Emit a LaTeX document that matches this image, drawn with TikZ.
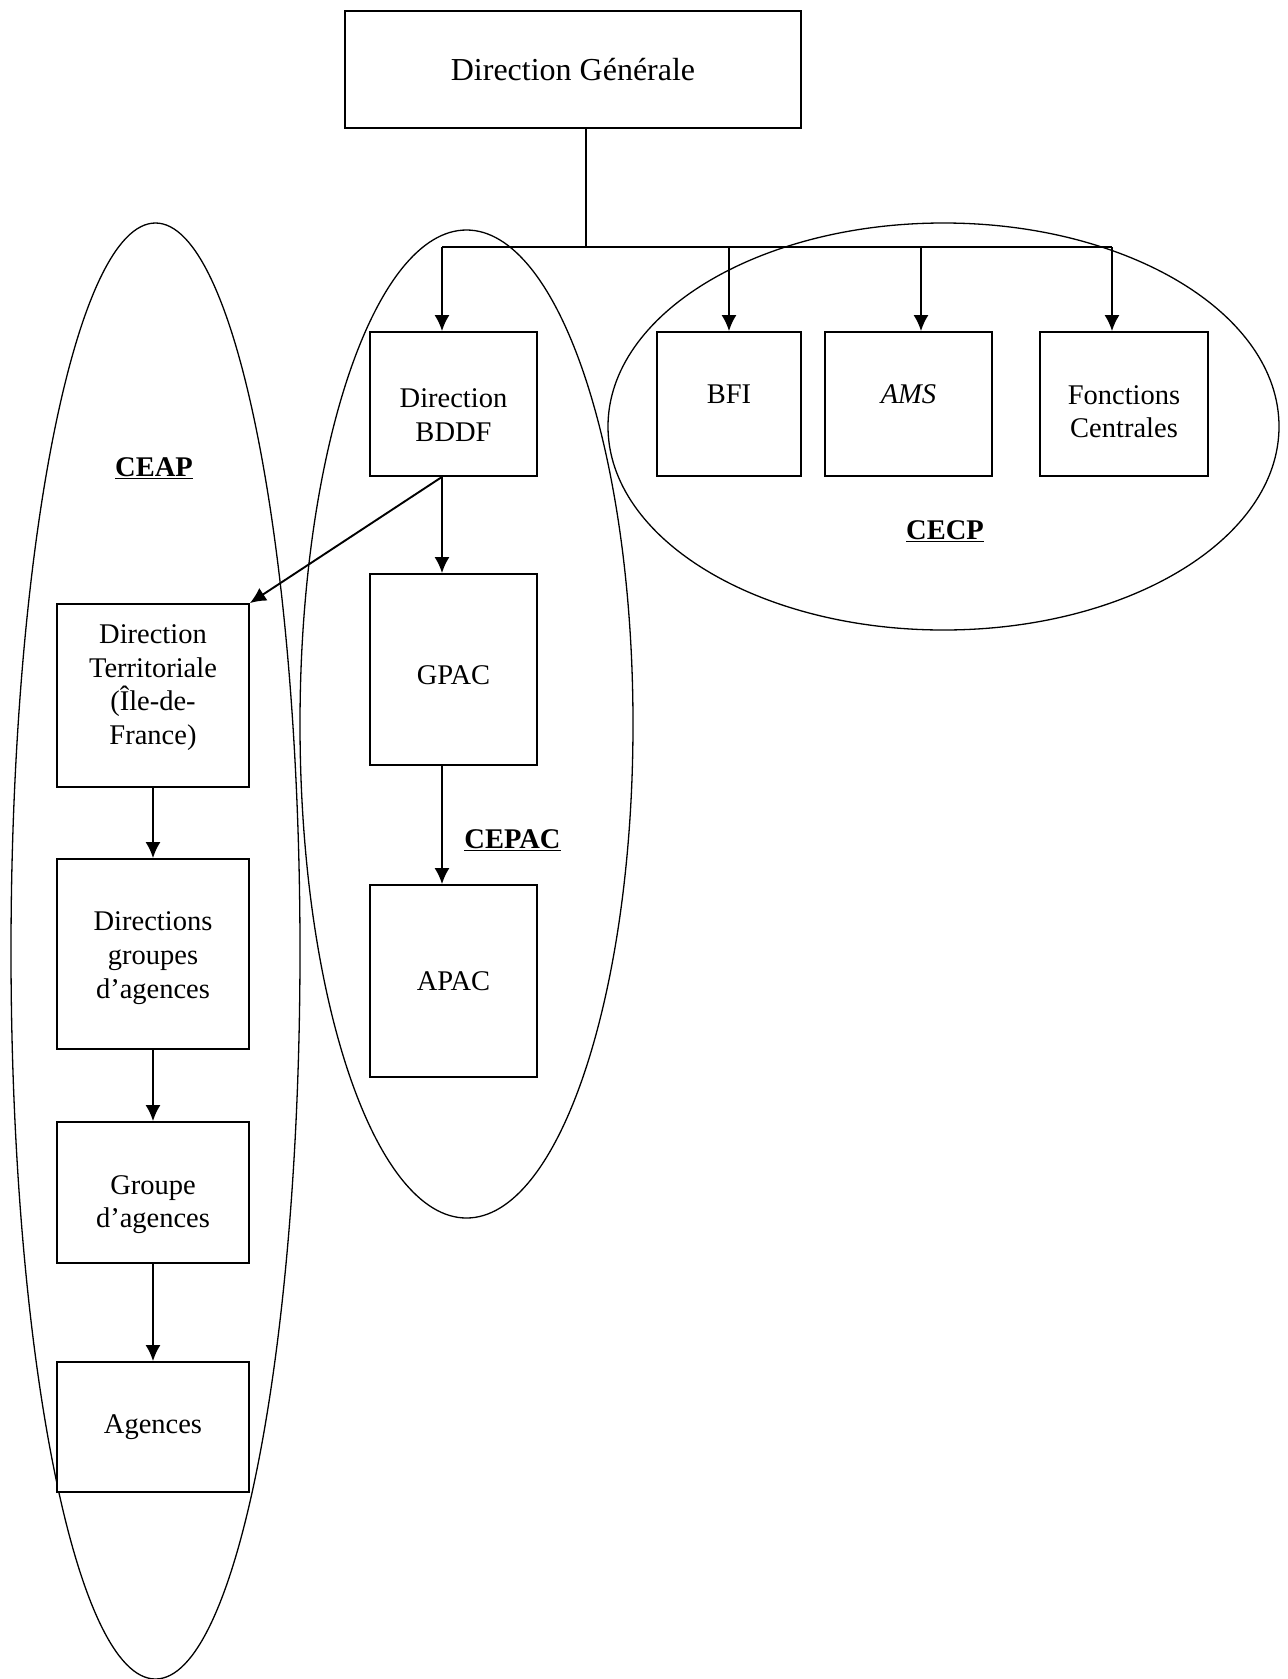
\documentclass[tikz,border=0pt]{standalone}
\usepackage{fontspec}
\setmainfont{Liberation Serif}
\usetikzlibrary{arrows.meta}

\newcommand{\pad}[1]{\rule{0pt}{#1}}

\tikzset{
  unit/.style={draw, line width=1.8pt, fill=white, align=center, inner sep=0pt,
    font=\fontsize{28.5}{33.7}\selectfont},
  headunit/.style={draw, line width=1.3pt, align=center, inner sep=0pt,
    minimum width=456, minimum height=117, font=\fontsize{32}{38}\selectfont},
  tag/.style={inner sep=0pt, font=\bfseries\fontsize{28.5}{33.7}\selectfont},
  group/.style={line width=1.3pt},
  link/.style={line width=1.9pt},
  lift/.style={execute at end node={\rule[-#1]{0pt}{#1}}},
}

\begin{document}
\begin{tikzpicture}[x=1pt, y=-1pt, >={Latex[length=16pt,width=15pt]}]
        \useasboundingbox (0,0) rectangle (1288,1679);

        % the three groupings
        \draw[group] (155.5,951) ellipse [x radius=144.5, y radius=728];
        \draw[group] (466.5,724) ellipse [x radius=166.5, y radius=494];
        \draw[group] (943.5,426.5) ellipse [x radius=335.5, y radius=203.5];

        \node[headunit] (dg) at (573,69.5) {Direction Générale};

        \node[unit, minimum width=167, minimum height=144] (bddf) at (453.5,404) {\pad{41pt}Direction\\BDDF};
        \node[unit, lift=20pt, minimum width=144, minimum height=144] (bfi) at (729,404) {BFI};
        \node[unit, lift=20pt, minimum width=167, minimum height=144] (ams) at (908.5,404) {\textit{AMS}};
        \node[unit, minimum width=168, minimum height=144] (fc) at (1124,404) {\pad{34.5pt}Fonctions\\Centrales};

        \node[unit, minimum width=167, minimum height=191] (gpac) at (453.5,669.5) {\pad{30pt}GPAC};
        \node[unit, minimum width=167, minimum height=192] (apac) at (453.5,981) {APAC};

        \node[unit, lift=22pt, minimum width=192, minimum height=183] (dt) at (153,695.5) {Direction\\Territoriale\\(Île-de-\\France)};
        \node[unit, minimum width=192, minimum height=190] (dga) at (153,954) {\pad{27.5pt}Directions\\groupes\\d’agences};
        \node[unit, minimum width=192, minimum height=141] (ga) at (153,1192.5) {\pad{43pt}Groupe\\d’agences};
        \node[unit, minimum width=192, minimum height=130] (ag) at (153,1427) {Agences};

        \node[tag] (ceap) at (154,468) {\underline{CEAP}};
        \node[tag] (cepac) at (512.5,840) {\underline{CEPAC}};
        \node[tag] (cecp) at (945,531) {\underline{CECP}};

        % bus from the top
        \coordinate (hub) at (586,247);
        \coordinate (t1) at (442,247);
        \coordinate (t2) at (729,247);
        \coordinate (t3) at (921,247);
        \coordinate (t4) at (1112,247);
        \draw[group] (dg.south -| hub) -- (hub);
        \draw[link] (t1) -- (t4);
        \draw[link, ->] (t1) -- (t1 |- bddf.north);
        \draw[link, ->] (t2) -- (t2 |- bfi.north);
        \draw[link, ->] (t3) -- (t3 |- ams.north);
        \draw[link, ->] (t4) -- (t4 |- fc.north);

        \draw[link, ->] (bddf.south -| t1) -- (gpac.north -| t1);
        \draw[link, ->] (gpac.south -| t1) -- (apac.north -| t1);
        \draw[link, ->] (bddf.south -| t1) -- (dt.north east);

        \foreach \a/\b in {dt/dga, dga/ga, ga/ag} {
            \draw[link, ->] (\a.south) -- (\b.north);
        }
\end{tikzpicture}
\end{document}
